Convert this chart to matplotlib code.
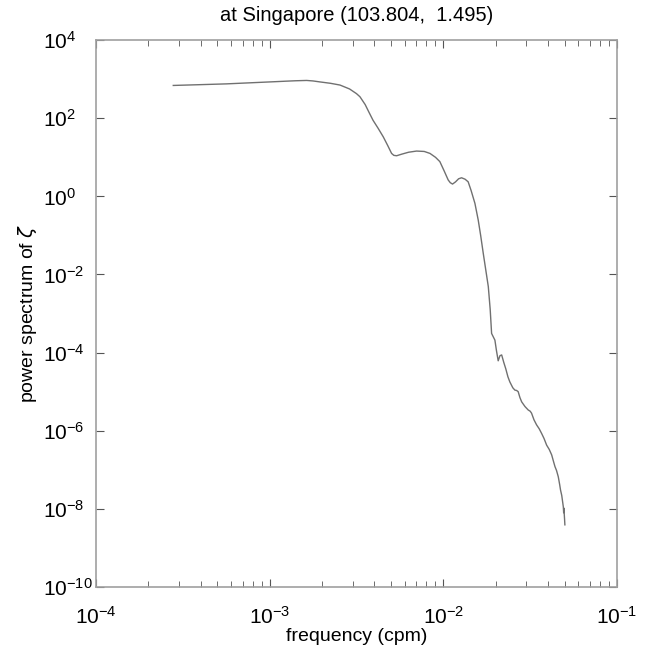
# Power spectrum of sea level (zeta) at Singapore, log-log plot.
import matplotlib.pyplot as plt
import matplotlib.ticker as mticker
import numpy as np

FONT_FAMILY: str = "Liberation Sans"

# log10 of frequency (cpm) and log10 of power
log_freq = [-3.555, -3.40, -3.25, -3.10, -2.95, -2.902, -2.85, -2.787, -2.75, -2.71,
            -2.65, -2.595, -2.54, -2.50, -2.48, -2.45, -2.43, -2.405, -2.375, -2.346,
            -2.32, -2.298, -2.285, -2.269, -2.24, -2.20, -2.154, -2.11, -2.077, -2.045,
            -2.02, -1.995, -1.972, -1.96, -1.947, -1.93, -1.912, -1.895, -1.875, -1.857,
            -1.84, -1.818, -1.799, -1.785, -1.770, -1.755, -1.741, -1.730, -1.722, -1.712,
            -1.703, -1.694, -1.684, -1.674, -1.664, -1.652, -1.64, -1.628, -1.617, -1.60,
            -1.588, -1.578, -1.569, -1.559, -1.549, -1.53, -1.511, -1.50, -1.492, -1.478,
            -1.463, -1.448, -1.434, -1.42, -1.405, -1.39, -1.376, -1.366, -1.357, -1.348,
            -1.338, -1.33, -1.325, -1.318, -1.313, -1.309, -1.307, -1.306, -1.304, -1.302,
            -1.30]
log_power = [2.84, 2.86, 2.88, 2.91, 2.94, 2.95, 2.96, 2.968, 2.955, 2.93,
             2.895, 2.85, 2.75, 2.63, 2.55, 2.35, 2.17, 1.95, 1.74, 1.525,
             1.30, 1.10, 1.05, 1.04, 1.08, 1.13, 1.16, 1.15, 1.10, 1.00,
             0.89, 0.65, 0.42, 0.35, 0.315, 0.37, 0.45, 0.476, 0.44, 0.373,
             0.15, -0.18, -0.607, -1.00, -1.46, -1.90, -2.31, -2.90, -3.51, -3.60,
             -3.68, -3.95, -4.21, -4.08, -4.06, -4.25, -4.42, -4.62, -4.75, -4.90,
             -4.96, -4.97, -5.00, -5.15, -5.26, -5.38, -5.47, -5.50, -5.55, -5.72,
             -5.85, -5.95, -6.07, -6.20, -6.37, -6.48, -6.62, -6.78, -6.92, -7.02,
             -7.18, -7.38, -7.52, -7.66, -7.82, -7.95, -8.10, -7.98, -8.11, -8.25,
             -8.41]

freq = 10.0 ** np.array(log_freq)
power = 10.0 ** np.array(log_power)

plt.rc("font", family=FONT_FAMILY)
plt.rcParams["axes.unicode_minus"] = False
fig = plt.figure(figsize=(6.5, 6.58), dpi=100)
ax = fig.add_axes([0.1477, 0.108, 0.8015, 0.831])

ax.plot(freq, power, color="#707070", linewidth=1.0)
ax.set_xscale("log")
ax.set_yscale("log")
ax.set_xlim(1e-4, 1e-1)
ax.set_ylim(1e-10, 1e4)

ax.yaxis.set_major_locator(mticker.FixedLocator([10.0 ** k for k in range(-10, 5, 2)]))
ax.yaxis.set_minor_locator(mticker.NullLocator())
ax.xaxis.set_major_locator(mticker.LogLocator(base=10, numticks=10))
ax.xaxis.set_minor_locator(mticker.LogLocator(base=10, subs=np.arange(2, 10), numticks=10))

for spine in ax.spines.values():
    spine.set_color("#a0a0a0")
    spine.set_linewidth(1.2)
ax.tick_params(which="both", direction="in", top=True, right=True, color="#555555")
ax.tick_params(which="major", length=6, labelsize=15)
ax.tick_params(axis="x", which="major", pad=14)
ax.tick_params(axis="y", which="major", pad=38)
ax.tick_params(which="minor", length=4)
for lbl in ax.get_yticklabels():
    lbl.set_horizontalalignment("left")

ax.set_title("at Singapore (103.804,  1.495)", fontsize=14.5, pad=14)
ax.set_xlabel("frequency (cpm)", fontsize=14, labelpad=0)
ax.set_ylabel(r"power spectrum of $\zeta$", fontsize=14)
ax.yaxis.set_label_coords(-0.11, 0.5)

fig.savefig("out.png", dpi=100)
